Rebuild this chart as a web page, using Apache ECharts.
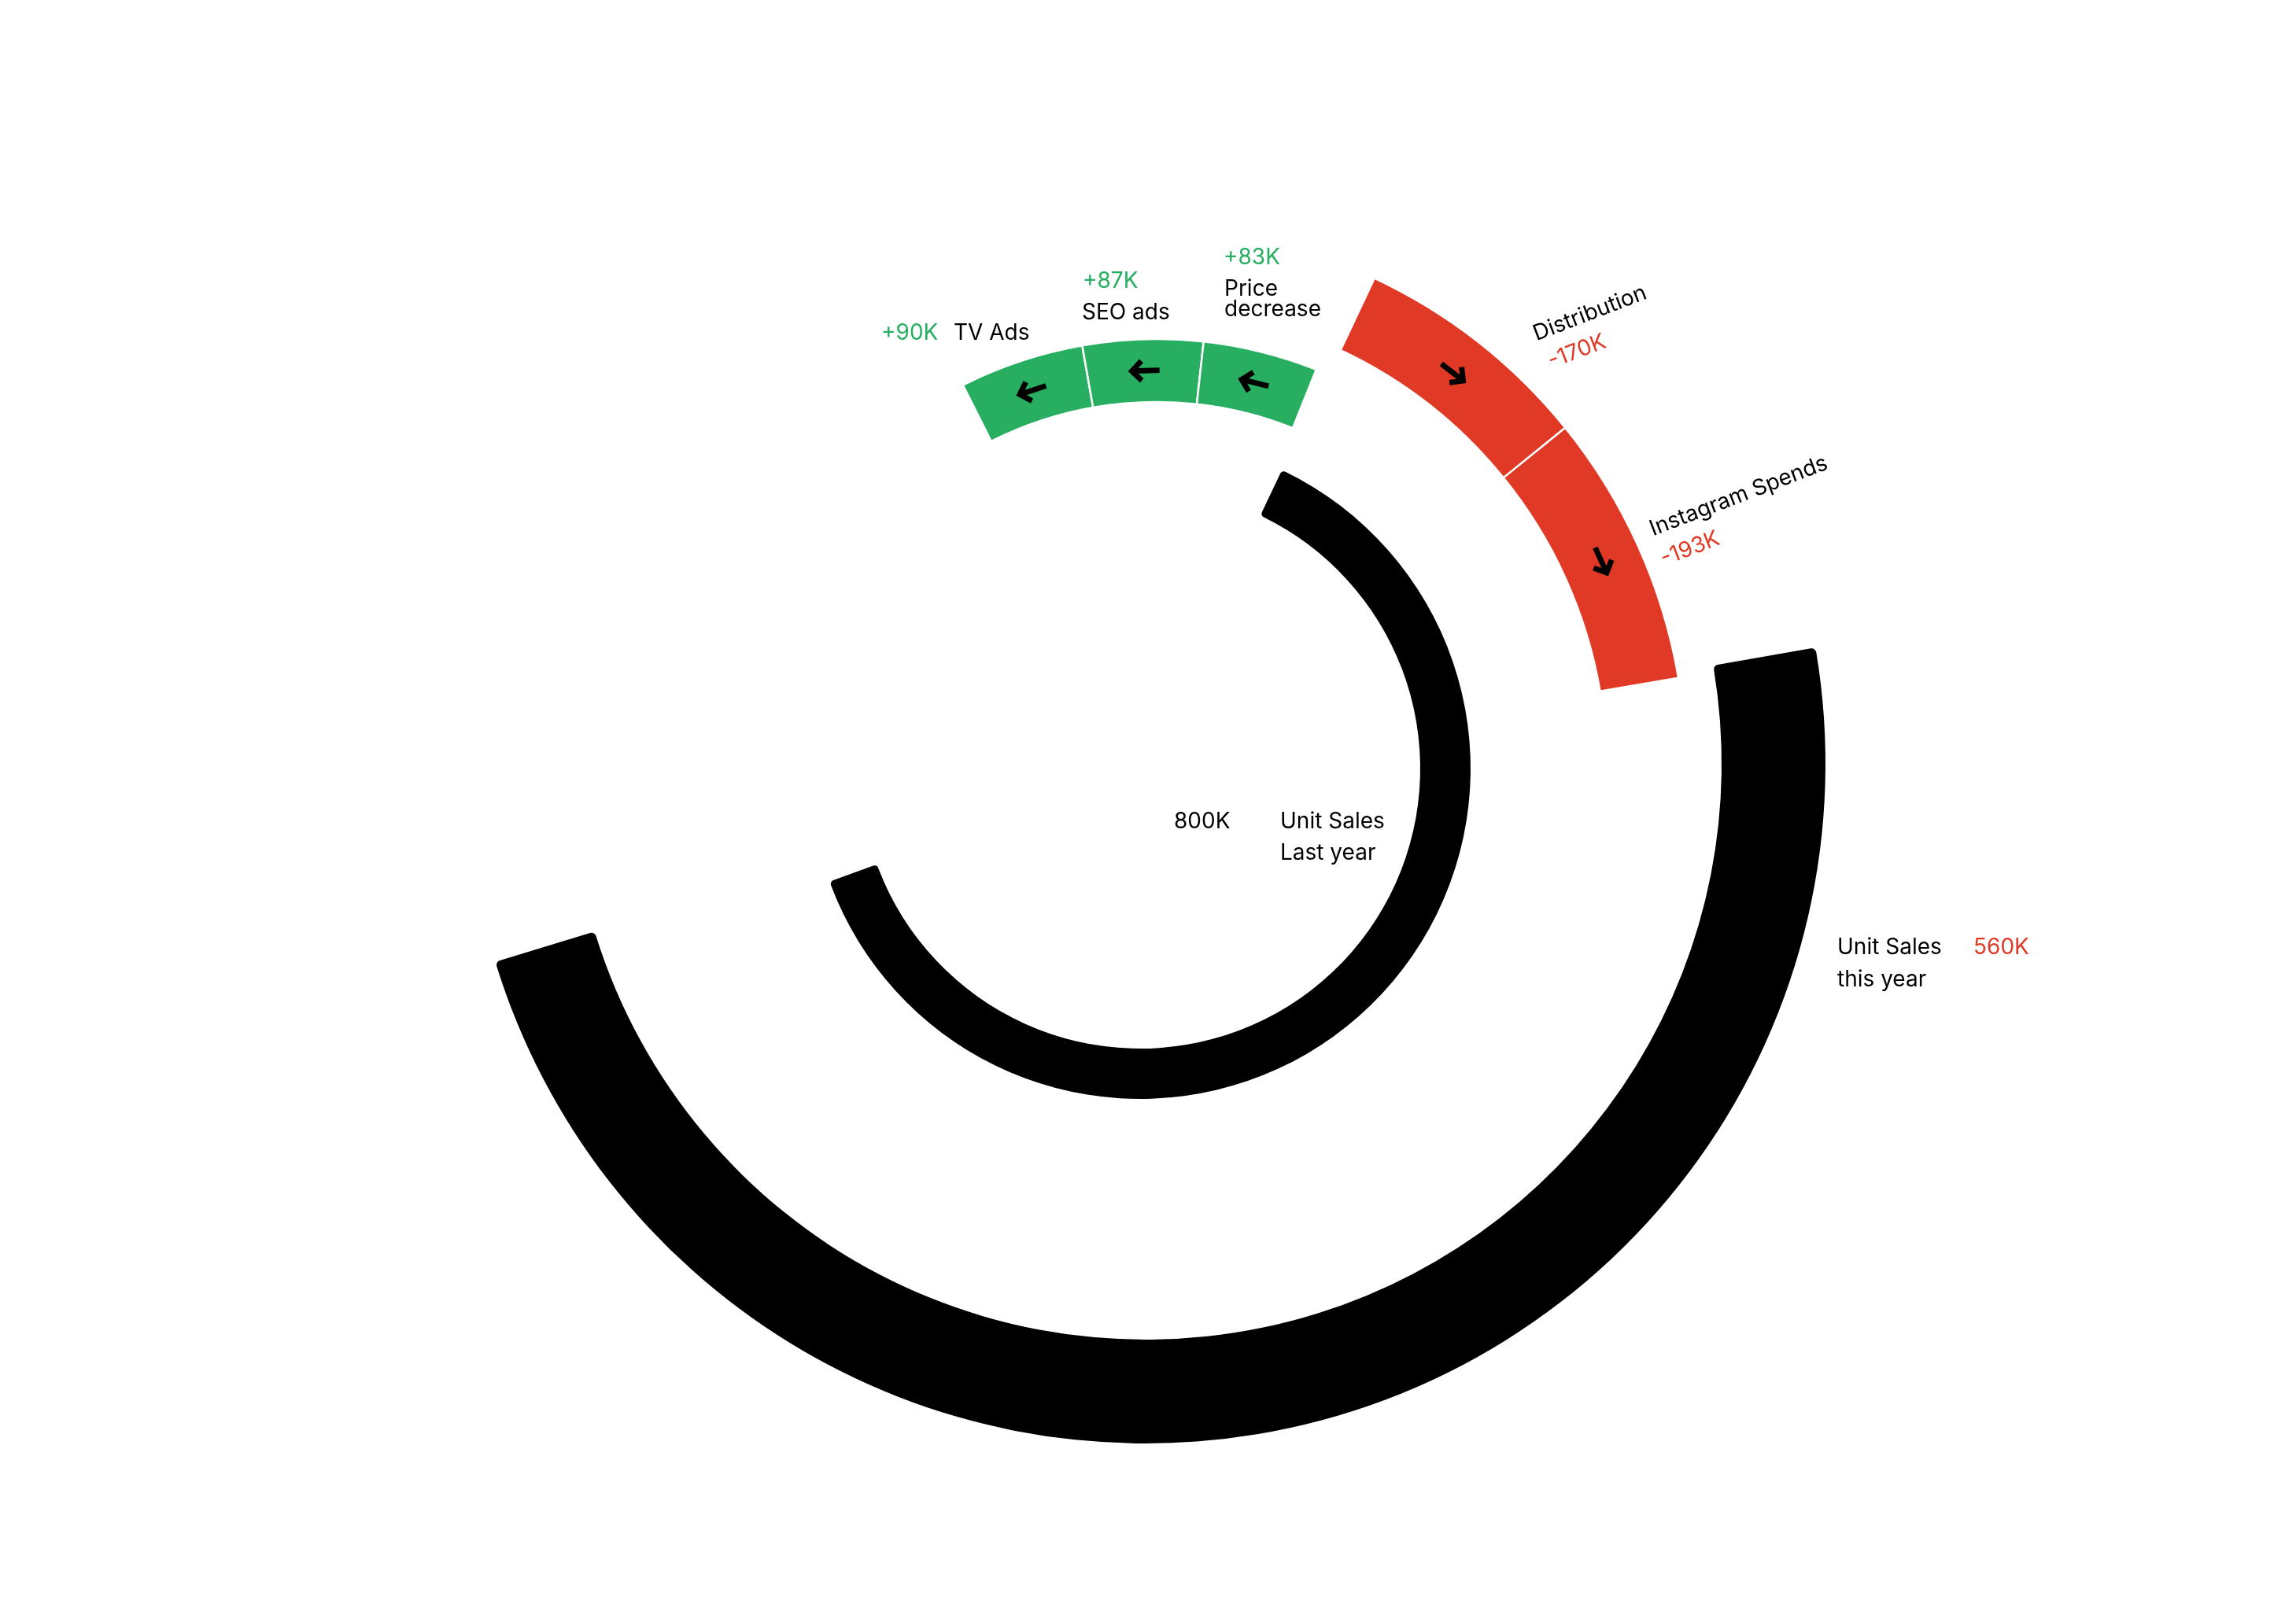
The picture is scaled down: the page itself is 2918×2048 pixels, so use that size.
<!DOCTYPE html>
<html>
<head>
<meta charset="utf-8">
<script src="https://cdn.jsdelivr.net/npm/echarts@6/dist/echarts.min.js"></script>
<style>
html,body{margin:0;padding:0;background:#ffffff;}
#chart{width:2918px;height:2048px;}
</style>
</head>
<body>
<div id="chart"></div>
<script>
// ---------------- DATA ----------------
const lastYearName = ['Unit Sales', 'Last year'];
const lastYearValue = 800;
const increaseNames = ['TV Ads', 'SEO ads', 'Price decrease'];
const increaseValues = [90, 87, 83];
const decreaseNames = ['Distribution', 'Instagram Spends'];
const decreaseValues = [170, 193];
const thisYearName = ['Unit Sales', 'this year'];
const thisYearValue = 560;

// ---------------- STYLE / LAYOUT ----------------
const GREEN = '#27AE60';
const RED = '#E03A26';
const BLACK = '#000000';
const FONT = 'Inter';
const FS = 28;

const sum = a => a.reduce((s, v) => s + v, 0);

// ring geometry: centre (px), radii (px), start angle (deg clockwise from north), sweep of the ring total (deg)
const rings = [
  { center: [1449, 977], radius: [356, 420], start: 25.4,  sweep: 224.6, total: lastYearValue },
  { center: [1470, 978], radius: [467, 547], start: -26.75, sweep: 48.5,  total: sum(increaseValues) },
  { center: [1453, 978], radius: [589, 690], start: 25.2,  sweep: 55.1,  total: sum(decreaseValues) },
  { center: [1456, 971], radius: [732, 864], start: 80.16, sweep: 172.9, total: thisYearValue }
];
rings.forEach(r => {
  r.max = r.total * 360 / r.sweep;
  r.startAngle = 90 - r.start;
});

// label anchor points (left, baseline) and rotation
const increaseLabelPos = [
  { value: [1120, 433], name: [[1212, 433]] },
  { value: [1376, 367], name: [[1375, 407]] },
  { value: [1555, 337], name: [[1556, 377], [1556, 403]] }
];
const decreaseLabelPos = [
  { value: [1972, 469], name: [[1953, 434]], rot: 21 },
  { value: [2115, 720], name: [[2101, 682]], rot: 21 }
];
const lastYearLabelPos = { value: [1492, 1054], name: [[1627, 1054], [1627, 1094]] };
const thisYearLabelPos = { value: [2508, 1214], name: [[2335, 1214], [2335, 1255]] };

// arrow glyph pointing up
const ARROW = 'path://M0,0 L14,14 L9.4,18.6 L3.25,12.45 L3.25,38 L-3.25,38 L-3.25,12.45 L-9.4,18.6 L-14,14 Z';

// ---------------- BUILD ----------------
const polar = rings.map(r => ({ center: r.center, radius: r.radius }));
const angleAxis = rings.map((r, i) => ({
  polarIndex: i, type: 'value', min: 0, max: r.max,
  startAngle: r.startAngle, clockwise: true, show: false
}));
const radiusAxis = rings.map((r, i) => ({
  polarIndex: i, type: 'category', data: ['ring'], show: false
}));

function barSeries(ringIdx, name, value, color, stack, extra) {
  return Object.assign({
    type: 'bar', coordinateSystem: 'polar', polarIndex: ringIdx,
    name: name, stack: stack, data: [value],
    barWidth: '100%', barCategoryGap: '0%', silent: true,
    itemStyle: { color: color }
  }, extra || {});
}

const series = [];
series.push(barSeries(0, lastYearName.join(' '), lastYearValue, BLACK, 'r0',
  { itemStyle: { color: BLACK, borderRadius: 5 } }));
increaseValues.forEach((v, i) => series.push(barSeries(1, increaseNames[i], v, GREEN, 'r1',
  { itemStyle: { color: GREEN, borderColor: '#ffffff', borderWidth: 2.5 } })));
decreaseValues.forEach((v, i) => series.push(barSeries(2, decreaseNames[i], v, RED, 'r2',
  { itemStyle: { color: RED, borderColor: '#ffffff', borderWidth: 2.5 } })));
series.push(barSeries(3, thisYearName.join(' '), thisYearValue, BLACK, 'r3',
  { itemStyle: { color: BLACK, borderRadius: 6 } }));

function arrowSeries(ringIdx, values, clockwiseDir) {
  const r = rings[ringIdx];
  let acc = 0;
  const data = values.map(v => {
    const mid = acc + v / 2;
    acc += v;
    const phi = r.startAngle - mid * 360 / r.max;
    return { value: [0, mid], symbolRotate: clockwiseDir ? phi + 180 : phi };
  });
  return {
    type: 'scatter', coordinateSystem: 'polar', polarIndex: ringIdx,
    symbol: ARROW, symbolSize: [30, 40], silent: true, z: 10,
    itemStyle: { color: BLACK, opacity: 1 },
    data: data
  };
}
series.push(arrowSeries(1, increaseValues, false));
series.push(arrowSeries(2, decreaseValues, true));

// labels
function txt(pos, text, color, rot) {
  return {
    type: 'text', x: pos[0], y: pos[1], rotation: (rot || 0) * Math.PI / 180,
    silent: true, z: 20,
    style: { text: text, x: 0, y: -9, fill: color, font: '400 ' + FS + 'px ' + FONT,
             align: 'left', verticalAlign: 'middle' }
  };
}
function nameLines(name, n) {
  if (n === 1) return [name];
  const parts = name.split(' ');
  return [parts[0], parts.slice(1).join(' ')];
}
const graphics = [];
increaseValues.forEach((v, i) => {
  const p = increaseLabelPos[i];
  graphics.push(txt(p.value, '+' + v + 'K', GREEN));
  nameLines(increaseNames[i], p.name.length).forEach((t, k) => graphics.push(txt(p.name[k], t, BLACK)));
});
decreaseValues.forEach((v, i) => {
  const p = decreaseLabelPos[i];
  graphics.push(txt(p.value, '-' + v + 'K', RED, p.rot));
  graphics.push(txt(p.name[0], decreaseNames[i], BLACK, p.rot));
});
graphics.push(txt(lastYearLabelPos.value, lastYearValue + 'K', BLACK));
lastYearName.forEach((t, k) => graphics.push(txt(lastYearLabelPos.name[k], t, BLACK)));
graphics.push(txt(thisYearLabelPos.value, thisYearValue + 'K', RED));
thisYearName.forEach((t, k) => graphics.push(txt(thisYearLabelPos.name[k], t, BLACK)));

const chart = echarts.init(document.getElementById('chart'), null, { renderer: 'canvas' });
chart.setOption({
  backgroundColor: '#ffffff',
  animation: false,
  polar: polar,
  angleAxis: angleAxis,
  radiusAxis: radiusAxis,
  series: series,
  graphic: { elements: graphics }
});
</script>
</body>
</html>
